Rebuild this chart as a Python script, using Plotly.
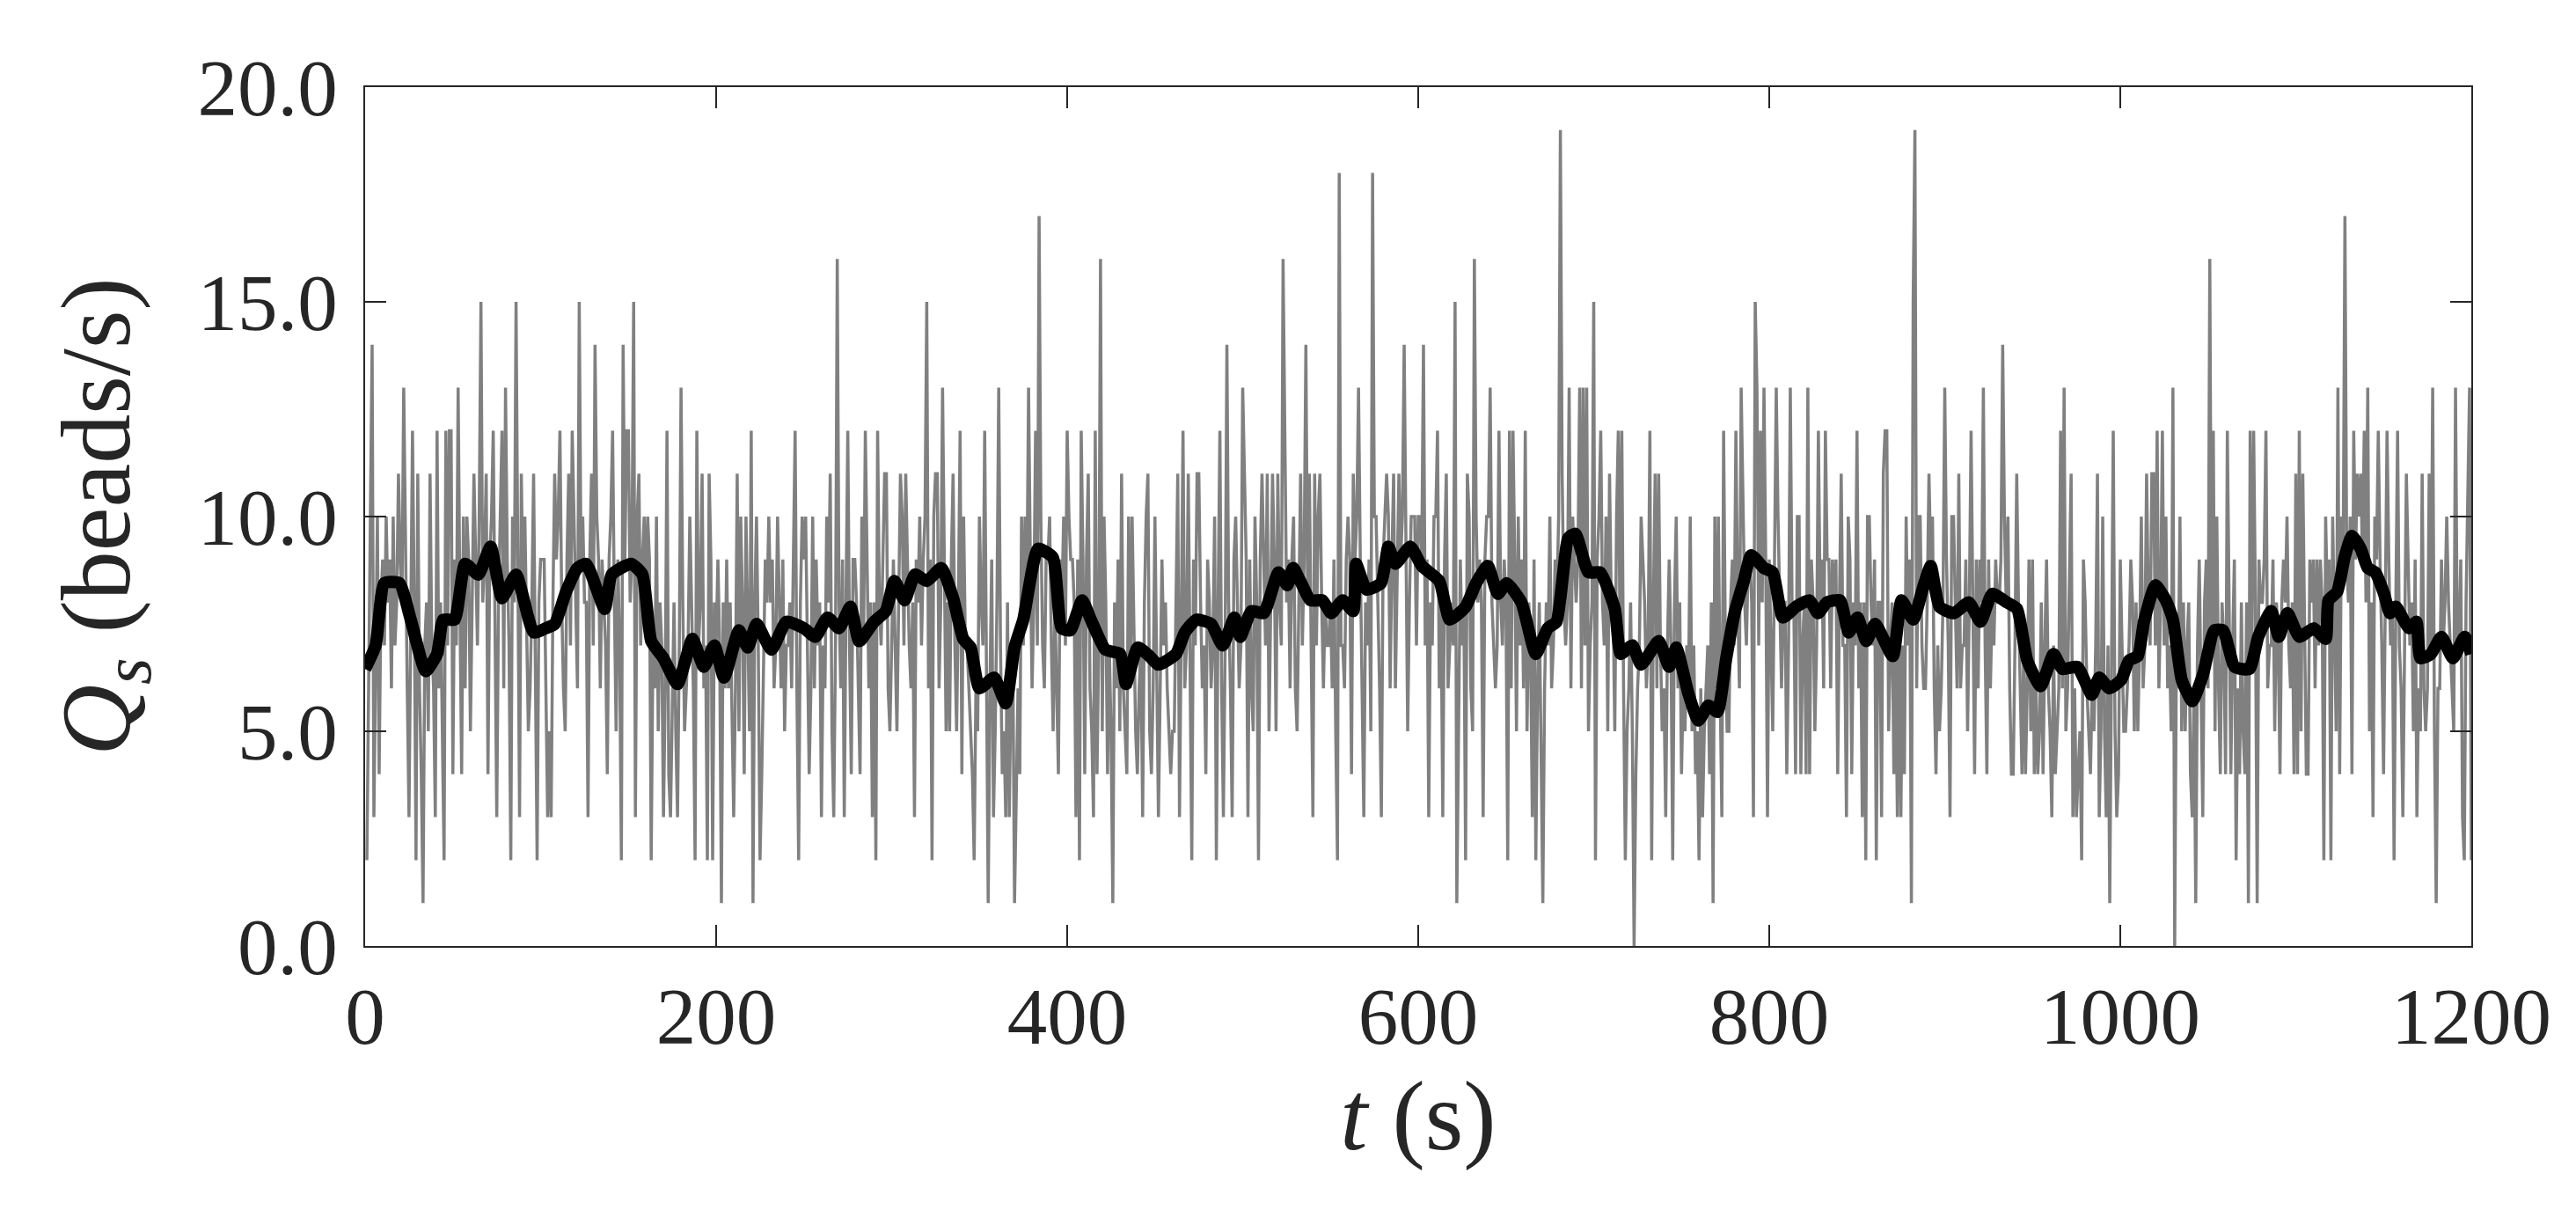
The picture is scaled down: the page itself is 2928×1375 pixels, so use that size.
import numpy as np
import plotly.graph_objects as go

# Sediment discharge per second (beads/s), t = 1 .. 1200 s
GRAY_COUNTS = [
    2, 6, 9, 14, 3, 7, 10, 4, 8, 9,
    7, 10, 8, 9, 6, 10, 7, 8, 11, 9,
    8, 13, 9, 6, 3, 7, 12, 8, 2, 11,
    6, 4, 1, 7, 8, 5, 11, 7, 6, 3,
    12, 6, 8, 5, 2, 12, 7, 12, 12, 4,
    9, 7, 13, 8, 4, 10, 6, 10, 9, 5,
    8, 11, 9, 7, 10, 15, 8, 9, 11, 4,
    9, 10, 12, 7, 3, 8, 10, 12, 6, 13,
    9, 7, 2, 10, 8, 15, 9, 3, 11, 8,
    10, 7, 5, 6, 8, 11, 7, 2, 8, 9,
    9, 9, 6, 3, 5, 3, 8, 11, 9, 10,
    12, 8, 6, 5, 9, 11, 7, 12, 10, 8,
    6, 15, 9, 10, 8, 8, 3, 9, 11, 7,
    14, 10, 9, 6, 9, 8, 7, 4, 9, 10,
    12, 8, 5, 9, 7, 2, 14, 9, 12, 12,
    8, 9, 15, 3, 10, 11, 7, 9, 10, 8,
    10, 9, 2, 7, 6, 10, 5, 8, 7, 3,
    6, 12, 4, 3, 6, 8, 5, 3, 7, 13,
    8, 5, 6, 7, 10, 8, 6, 2, 12, 7,
    8, 11, 6, 7, 2, 11, 9, 2, 8, 7,
    9, 7, 1, 8, 6, 9, 6, 8, 5, 3,
    6, 11, 5, 10, 8, 4, 10, 7, 5, 12,
    1, 8, 10, 7, 2, 4, 7, 9, 8, 10,
    8, 9, 6, 7, 10, 8, 6, 9, 5, 7,
    7, 8, 6, 9, 12, 6, 2, 8, 10, 9,
    10, 7, 4, 6, 10, 6, 9, 7, 8, 3,
    7, 6, 10, 8, 11, 5, 3, 7, 16, 8,
    6, 9, 3, 8, 12, 7, 4, 9, 9, 8,
    6, 4, 10, 7, 12, 9, 6, 8, 3, 8,
    2, 12, 8, 7, 9, 11, 11, 6, 5, 7,
    9, 7, 5, 8, 11, 10, 7, 11, 9, 7,
    6, 8, 3, 9, 8, 10, 7, 9, 10, 15,
    6, 9, 2, 10, 11, 11, 6, 8, 13, 9,
    5, 8, 5, 9, 11, 7, 5, 8, 12, 4,
    10, 7, 7, 6, 5, 4, 2, 6, 5, 10,
    8, 7, 12, 6, 1, 6, 9, 3, 5, 8,
    13, 7, 4, 5, 3, 8, 3, 6, 7, 1,
    4, 6, 4, 10, 7, 10, 8, 13, 9, 6,
    8, 12, 7, 17, 10, 7, 6, 9, 9, 10,
    7, 5, 8, 6, 4, 9, 8, 10, 7, 12,
    10, 9, 9, 8, 3, 9, 2, 12, 9, 4,
    9, 11, 6, 5, 3, 12, 4, 7, 16, 5,
    10, 8, 4, 7, 5, 1, 8, 6, 9, 5,
    11, 6, 5, 4, 10, 6, 10, 7, 5, 4,
    6, 7, 3, 8, 10, 11, 5, 4, 6, 10,
    7, 3, 6, 9, 7, 8, 6, 5, 4, 5,
    5, 8, 11, 3, 7, 12, 6, 7, 11, 6,
    2, 9, 7, 11, 11, 8, 6, 7, 4, 9,
    8, 6, 7, 10, 2, 8, 12, 6, 3, 7,
    14, 8, 6, 3, 9, 10, 8, 6, 7, 13,
    11, 9, 3, 9, 6, 5, 10, 8, 2, 9,
    11, 9, 7, 11, 5, 8, 11, 9, 5, 11,
    8, 7, 16, 12, 8, 9, 6, 9, 10, 6,
    5, 8, 11, 7, 9, 14, 8, 11, 6, 3,
    11, 7, 10, 11, 8, 6, 8, 7, 7, 8,
    6, 9, 5, 2, 18, 7, 7, 6, 9, 10,
    9, 4, 11, 9, 10, 13, 9, 6, 3, 8,
    7, 9, 5, 18, 10, 10, 8, 6, 3, 9,
    10, 11, 10, 6, 9, 11, 6, 9, 11, 9,
    10, 14, 9, 5, 8, 10, 10, 10, 7, 10,
    10, 9, 14, 7, 9, 3, 8, 7, 10, 10,
    12, 6, 8, 3, 9, 11, 6, 7, 8, 7,
    15, 1, 6, 9, 7, 8, 2, 11, 10, 6,
    5, 16, 10, 8, 9, 8, 3, 9, 10, 10,
    13, 8, 7, 6, 7, 12, 8, 7, 9, 8,
    2, 12, 6, 12, 9, 5, 10, 7, 9, 6,
    12, 5, 8, 7, 3, 9, 2, 6, 8, 4,
    1, 6, 8, 7, 10, 6, 7, 9, 8, 10,
    19, 11, 8, 7, 8, 13, 6, 10, 9, 8,
    9, 13, 6, 13, 7, 13, 5, 7, 8, 15,
    2, 9, 10, 12, 8, 7, 10, 5, 11, 8,
    8, 5, 10, 12, 7, 12, 6, 2, 5, 6,
    8, 5, 0, 4, 6, 7, 10, 9, 8, 6,
    7, 12, 2, 8, 11, 6, 11, 7, 5, 6,
    3, 7, 9, 7, 2, 8, 10, 6, 8, 4,
    6, 5, 7, 6, 10, 5, 7, 4, 5, 2,
    6, 3, 5, 6, 7, 4, 8, 1, 10, 6,
    10, 6, 3, 12, 7, 5, 5, 8, 9, 7,
    12, 8, 6, 13, 10, 8, 7, 9, 9, 8,
    3, 15, 13, 7, 12, 8, 13, 9, 3, 9,
    7, 5, 9, 13, 10, 8, 6, 8, 8, 4,
    7, 13, 8, 8, 4, 10, 10, 4, 7, 8,
    4, 13, 4, 9, 8, 5, 7, 12, 8, 9,
    6, 12, 9, 9, 6, 9, 8, 9, 4, 8,
    11, 7, 7, 3, 10, 9, 4, 8, 7, 12,
    6, 8, 3, 8, 2, 10, 10, 8, 7, 9,
    2, 8, 8, 3, 11, 12, 12, 5, 7, 8,
    4, 7, 3, 8, 3, 7, 4, 10, 7, 9,
    1, 15, 19, 6, 10, 10, 7, 6, 6, 8,
    11, 9, 10, 6, 4, 7, 5, 6, 8, 13,
    9, 7, 3, 10, 10, 8, 6, 11, 6, 7,
    7, 9, 5, 8, 12, 8, 4, 9, 6, 9,
    8, 13, 7, 4, 9, 6, 8, 7, 9, 8,
    8, 9, 14, 10, 8, 10, 6, 4, 4, 7,
    11, 8, 6, 4, 7, 4, 6, 9, 5, 9,
    4, 6, 4, 5, 8, 4, 7, 9, 6, 5,
    3, 7, 4, 5, 6, 12, 6, 13, 5, 6,
    9, 11, 3, 6, 3, 4, 5, 2, 9, 8,
    6, 5, 4, 6, 5, 7, 11, 3, 5, 10,
    5, 3, 7, 1, 8, 12, 5, 3, 4, 9,
    7, 5, 5, 6, 7, 9, 8, 5, 8, 5,
    7, 10, 6, 7, 11, 8, 7, 11, 11, 7,
    12, 6, 8, 12, 7, 10, 6, 7, 5, 13,
    0, 7, 6, 10, 5, 8, 5, 7, 8, 4,
    3, 6, 1, 7, 9, 6, 3, 8, 9, 6,
    16, 7, 12, 5, 10, 6, 4, 8, 7, 4,
    12, 8, 4, 7, 9, 2, 6, 4, 8, 5,
    4, 8, 1, 12, 7, 12, 8, 1, 9, 8,
    8, 9, 12, 6, 7, 7, 9, 5, 8, 7,
    4, 8, 9, 8, 10, 7, 6, 8, 4, 11,
    4, 12, 5, 11, 7, 4, 4, 9, 8, 9,
    6, 9, 7, 9, 8, 2, 10, 8, 9, 2,
    10, 7, 5, 13, 4, 10, 9, 17, 9, 8,
    10, 4, 12, 9, 11, 10, 11, 9, 12, 8,
    13, 5, 8, 3, 10, 9, 12, 9, 7, 4,
    9, 12, 9, 7, 8, 2, 8, 12, 7, 6,
    3, 8, 11, 9, 7, 8, 5, 9, 3, 6,
    5, 11, 6, 5, 6, 11, 7, 13, 5, 1,
    6, 6, 9, 7, 8, 10, 8, 7, 6, 5,
    13, 7, 7, 9, 3, 2, 8, 11, 13, 2,
]
GRAY_T = np.arange(1, len(GRAY_COUNTS) + 1)

# Running-mean curve
SMOOTH_T = [
    0, 6, 11, 19.5, 26, 34.5, 41, 44.5, 51, 57, 64.5, 71.5, 78, 86, 96, 103,
    108, 114.5, 121, 126, 136.5, 140.5, 151.5, 158, 163, 170, 178, 186.5, 193, 199,
    204.5, 213, 218, 223, 231.5, 240, 250, 256.5, 263.5, 270, 276.5, 281.5, 290, 296.7,
    301.6, 307.4, 313.3, 320, 328.3, 335, 340.8, 345, 350, 358.4, 365, 370, 375, 383.4,
    391.8, 396.8, 401.8, 408.5, 413.5, 421.8, 430.2, 433.5, 440.2, 446.9, 451.9, 462,
    467, 473.6, 482, 488.6, 495.3, 498.6, 505, 512, 520.4, 525.4, 528.7, 538.7, 545.4,
    550.4, 557, 563, 564.6, 570.5, 578.8, 583, 587, 595.5, 602, 612, 618, 627, 633,
    639.6, 645.4, 650.4, 658.8, 667, 673.8, 678.8, 685.5, 689.6, 697, 703.7, 712,
    715.4, 722, 727, 737, 743, 747, 753.8, 759.6, 765.4, 770.5, 775.5, 780.5, 785.5,
    789.7, 797, 802, 807.8, 815.3, 822.8, 827.8, 832.8, 840.3, 845.3, 850.3, 855.3,
    860.3, 870.4, 875.4, 882, 888, 892, 897, 905.3, 913.7, 920.4, 927, 935.4, 941.2,
    947, 954.6, 962, 967, 975.5, 983.8, 988, 993.8, 1000.5, 1005, 1010, 1013.5, 1020,
    1026, 1030, 1035, 1041, 1047, 1053.6, 1058.6, 1065.2, 1073.6, 1078.6, 1086, 1090.3,
    1095.3, 1102, 1110.3, 1117, 1118.6, 1123.6, 1127.8, 1132, 1137, 1141, 1145.3,
    1150.3, 1153.7, 1157, 1164.5, 1168.7, 1171, 1177, 1183, 1189.5, 1196.2, 1200,
]
SMOOTH_Q = [
    6.45, 7.0, 8.45, 8.45, 7.6, 6.4, 6.8, 7.6, 7.6, 8.9, 8.65, 9.3, 8.1, 8.65, 7.3, 7.4,
    7.5, 8.25, 8.8, 8.9, 7.85, 8.65, 8.9, 8.65, 7.1, 6.7, 6.1, 7.15, 6.5, 7.0,
    6.25, 7.35, 6.95, 7.5, 6.9, 7.55, 7.4, 7.2, 7.65, 7.4, 7.9, 7.1, 7.55, 7.8,
    8.5, 8.05, 8.65, 8.5, 8.8, 8.1, 7.15, 6.95, 6.0, 6.25, 5.65, 6.95, 7.6, 9.25,
    9.05, 7.4, 7.35, 8.05, 7.6, 6.9, 6.8, 6.1, 6.95, 6.75, 6.55, 6.8,
    7.3, 7.6, 7.5, 7.0, 7.65, 7.2, 7.8, 7.75, 8.7, 8.4, 8.8, 8.05, 8.05,
    7.75, 8.05, 7.8, 8.9, 8.3, 8.45, 9.3, 8.9, 9.3, 8.85, 8.5, 7.6, 7.9, 8.45,
    8.85, 8.2, 8.45, 8.0, 6.8, 7.4, 7.55, 9.5, 9.6, 8.7, 8.7, 7.85,
    6.8, 7.0, 6.55, 7.1, 6.5, 6.95, 5.9, 5.25, 5.6, 5.45, 6.7, 7.8, 8.5,
    9.1, 8.8, 8.7, 7.65, 7.9, 8.05, 7.75, 8.0, 8.05, 7.3, 7.65, 7.1,
    7.5, 6.75, 8.05, 7.6, 8.4, 8.85, 7.9, 7.75, 8.0, 7.55, 8.2, 8.0, 7.85,
    6.65, 6.05, 6.8, 6.45, 6.5, 5.85, 6.25, 6.0, 6.2, 6.65, 6.75, 7.55, 8.4,
    8.05, 7.6, 6.2, 5.7, 6.3, 7.35, 7.35, 6.5, 6.45, 7.2, 7.8, 7.2,
    7.75, 7.2, 7.4, 7.15, 8.05, 8.25, 9.05, 9.55, 9.25, 8.8, 8.7,
    8.2, 7.75, 7.9, 7.4, 7.55, 6.7, 6.8, 7.2, 6.7, 7.2, 6.8,
]

X_TICKS = [0, 200, 400, 600, 800, 1000, 1200]
Y_TICKS = [0, 5, 10, 15, 20]
Y_TICK_LABELS = ["0.0", "5.0", "10.0", "15.0", "20.0"]

AX = "#262626"
FONT = "Liberation Serif"

fig = go.Figure()
fig.add_trace(go.Scatter(
    x=GRAY_T, y=GRAY_COUNTS, mode="lines",
    line=dict(color="#808080", width=3.5), hoverinfo="skip",
))
fig.add_trace(go.Scatter(
    x=SMOOTH_T, y=SMOOTH_Q, mode="lines",
    line=dict(color="#000000", width=14, shape="spline", smoothing=0.5),
    hoverinfo="skip",
))

axis_common = dict(
    showgrid=False, zeroline=False, showline=True, linewidth=2, linecolor=AX,
    mirror="ticks", ticks="inside", ticklen=24, tickwidth=2, tickcolor=AX,
    tickfont=dict(family=FONT, size=91, color=AX),
)

fig.update_layout(
    width=2928, height=1375,
    margin=dict(l=407, r=127, t=91, b=308),
    paper_bgcolor="white", plot_bgcolor="white",
    showlegend=False,
    font=dict(family=FONT, size=91, color=AX),
    xaxis=dict(
        range=[0, 1200], tickvals=X_TICKS,
        title=dict(text="<i>t</i> (s)", font=dict(family=FONT, size=112, color=AX), standoff=22),
        **axis_common,
    ),
    yaxis=dict(
        range=[0, 20], tickvals=Y_TICKS, ticktext=Y_TICK_LABELS,
        ticklabelstandoff=11,
        title=dict(text="<i>Q</i><sub><i>s</i></sub> (beads/s)", font=dict(family=FONT, size=112, color=AX), standoff=39),
        **axis_common,
    ),
)

fig.write_html("out.html")
